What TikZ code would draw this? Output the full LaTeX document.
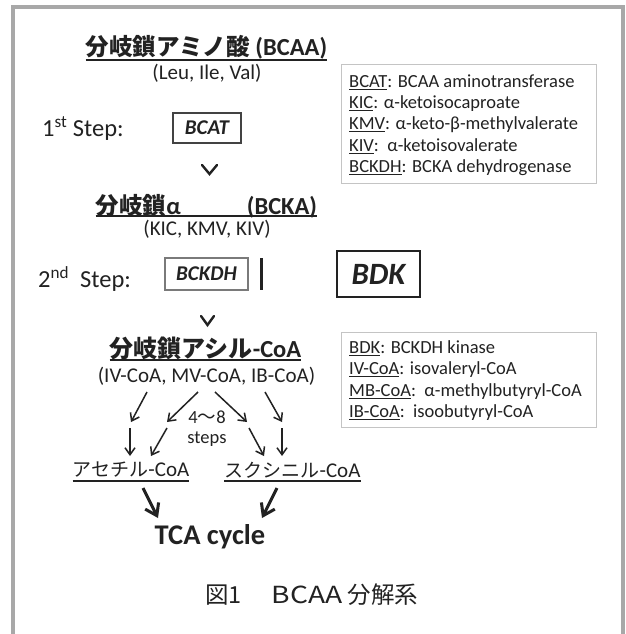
\documentclass[tikz,border=0pt]{standalone}
\usepackage{fontspec}
\setmainfont{Carlito}
\newfontfamily\jp{Noto Sans CJK JP}
\usetikzlibrary{arrows.meta}
\definecolor{ink}{HTML}{222222}
\definecolor{framegray}{HTML}{A8A8A8}
\definecolor{legendgray}{HTML}{C4C4C4}
\newcommand{\fsz}[2]{\fontsize{#1}{#2}\selectfont}
\newcommand{\abbr}[1]{\underline{#1}}
\tikzset{
  txt/.style={inner sep=0pt, text=ink},
  headline/.style={txt, font=\fsz{24.5}{28}\bfseries},
  subline/.style={txt, font=\fsz{21}{25}},
  legendtxt/.style={txt, anchor=west, font=\fsz{18.5}{21}},
  legendbox/.style={draw=legendgray, line width=1.2pt, inner sep=0pt},
  enzbox/.style={draw=#1, line width=1.3pt, inner sep=0pt, text=ink, font=\fsz{21}{24}\bfseries\itshape},
  steplabel/.style={txt, anchor=west, font=\fsz{24.5}{28}},
  uline/.style={ink, line width=1.4pt},
  chev/.style={ink, line width=2.4pt, line cap=round, line join=miter},
  thin arrow/.style={ink, line width=1.5pt, -{Straight Barb[length=7pt,width=10pt,line width=1.5pt]}},
  thick arrow/.style={ink, line width=3pt, -{Straight Barb[length=11pt,width=15pt,line width=3pt]}},
}
\begin{document}
\begin{tikzpicture}[x=1pt,y=-1pt]
\useasboundingbox (0,0) rectangle (625,634);
\fill[white] (0,0) rectangle (625,634);
% frame
\draw[framegray, line width=4pt, line join=miter] (13,634) -- (13,7) -- (623,7) -- (623,634);

% BCAA
\node[headline] (bcaa) at (206.5,47) {{\jp\fsz{23.5}{28}分岐鎖アミノ酸} (BCAA)};
\draw[uline] (bcaa.west |- 0,60) -- (bcaa.east |- 0,60);
\node[subline] (leu) at (207,73) {(Leu, Ile, Val)};

% step 1
\node[steplabel] (step1) at (42,129) {1\textsuperscript{st} Step:};
\node[enzbox=ink!85, minimum width=68pt, minimum height=30pt] (bcat) at (207,128) {BCAT};
\draw[chev] (202,165) -- (209.5,174) -- (217,165);

% BCKA
\node[headline] (bcka) at (206.5,206) {{\jp\fsz{23.5}{28}分岐鎖}α\hspace*{66pt}(BCKA)};
\draw[uline] (bcka.west |- 0,216) -- (bcka.east |- 0,216);
\node[subline] (kic) at (207,229) {(KIC, KMV, KIV)};

% step 2
\node[steplabel] (step2) at (38,279) {2\textsuperscript{nd}\ \ Step:};
\node[enzbox=ink!60, minimum width=83pt, minimum height=32pt] (bckdh) at (206.5,274) {BCKDH};
\draw[ink, line width=3pt] (261,258) -- (261,290);
\node[draw=ink, line width=1.5pt, inner sep=0pt, text=ink, font=\fsz{31}{36}\bfseries\itshape, minimum width=83pt, minimum height=46pt] (bdk) at (378.5,274) {BDK};
\draw[chev] (201,316) -- (207.5,325) -- (214,316);

% acyl-CoA
\node[headline] (acyl) at (205.5,348) {{\jp\fsz{24}{28}分岐鎖アシル}-CoA};
\draw[uline] (acyl.west |- 0,360) -- (acyl.east |- 0,360);
\node[subline] (ivcoa) at (206.5,376) {(IV-CoA, MV-CoA, IB-CoA)};

% steps label
\node[txt, font=\fsz{18.5}{22}] (n48) at (207,417) {4{\jp 〜}8};
\node[txt, font=\fsz{18.5}{22}] (stp) at (207,439) {steps};

% products
\node[txt, font=\fsz{21}{25}] (acet) at (131,470) {{\jp\fsz{19}{24}アセチル}-CoA};
\draw[uline, line width=1.2pt] (acet.west |- 0,481) -- (acet.east |- 0,481);
\node[txt, font=\fsz{21}{25}] (succ) at (292.5,470) {{\jp\fsz{19}{24}スクシニル}-CoA};
\draw[uline, line width=1.2pt] (succ.west |- 0,481) -- (succ.east |- 0,481);

% arrow end points
\coordinate (a1s) at (147,392); \coordinate (a1e) at (131,422);
\coordinate (a2s) at (198,392); \coordinate (a2e) at (167,422);
\coordinate (a3s) at (215,392); \coordinate (a3e) at (247,422);
\coordinate (a4s) at (265,392); \coordinate (a4e) at (282,422);
\coordinate (b1s) at (130,428); \coordinate (b1e) at (130,456);
\coordinate (b2s) at (167,428); \coordinate (b2e) at (151,456);
\coordinate (b3s) at (249,428); \coordinate (b3e) at (264,456);
\coordinate (b4s) at (282,428); \coordinate (b4e) at (282,456);
\foreach \p in {a1,a2,a3,a4,b1,b2,b3,b4} \draw[thin arrow] (\p s) -- (\p e);

% TCA
\node[txt, font=\fsz{28.5}{33}\bfseries] (tca) at (210,537) {TCA cycle};
\coordinate (t1s) at (143,488); \coordinate (t1e) at (158,518);
\coordinate (t2s) at (277,488); \coordinate (t2e) at (262,518);
\draw[thick arrow] (t1s) -- (t1e);
\draw[thick arrow] (t2s) -- (t2e);

% caption
\node[txt, anchor=west, font=\jp\fsz{23.5}{28}] (cap) at (205,595) {図1\hspace*{30pt}\scalebox{1.2}[1]{BCAA} 分解系};

% legend 1
\node[legendbox, minimum width=255pt, minimum height=119pt, anchor=north west] (leg1) at (341,64) {};
\node[legendtxt] (l11) at (349,82) {\abbr{BCAT}: BCAA aminotransferase};
\node[legendtxt] (l12) at (349,103.5) {\abbr{KIC}: α-ketoisocaproate};
\node[legendtxt] (l13) at (349,125) {\abbr{KMV}: α-keto-β-methylvalerate};
\node[legendtxt] (l14) at (349,146.5) {\abbr{KIV}:\ \ α-ketoisovalerate};
\node[legendtxt] (l15) at (349,168) {\abbr{BCKDH}: BCKA dehydrogenase};

% legend 2
\node[legendbox, minimum width=255pt, minimum height=95pt, anchor=north west] (leg2) at (341,332) {};
\node[legendtxt] (l21) at (349,348) {\abbr{BDK}: BCKDH kinase};
\node[legendtxt] (l22) at (349,370) {\abbr{IV-CoA}: isovaleryl-CoA};
\node[legendtxt] (l23) at (349,392) {\abbr{MB-CoA}:\ \ α-methylbutyryl-CoA};
\node[legendtxt] (l24) at (349,413) {\abbr{IB-CoA}:\ \ isoobutyryl-CoA};
\end{tikzpicture}
\end{document}
